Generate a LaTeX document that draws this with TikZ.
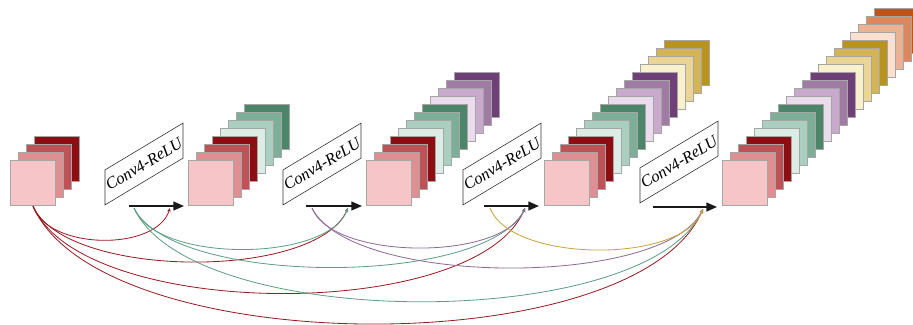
\documentclass[tikz,border=0pt]{standalone}
\usepackage{fontspec}
\setmainfont{Liberation Serif}
\usetikzlibrary{arrows.meta}
\definecolor{pk}{HTML}{F6C5C7}
\definecolor{ra}{HTML}{DE8F92}
\definecolor{rb}{HTML}{BE5357}
\definecolor{rc}{HTML}{8C0E13}
\definecolor{ga}{HTML}{DCEDE5}
\definecolor{gb}{HTML}{AACFC0}
\definecolor{gc}{HTML}{7DAE98}
\definecolor{gd}{HTML}{4C8569}
\definecolor{pa}{HTML}{EADCEC}
\definecolor{pb}{HTML}{C9AACC}
\definecolor{pc}{HTML}{A07CA5}
\definecolor{pd}{HTML}{6F3F77}
\definecolor{ya}{HTML}{F9F0CC}
\definecolor{yb}{HTML}{EAD597}
\definecolor{yc}{HTML}{D3B457}
\definecolor{yd}{HTML}{B8931F}
\definecolor{oa}{HTML}{FCE0CF}
\definecolor{ob}{HTML}{EBB293}
\definecolor{oc}{HTML}{DC875C}
\definecolor{od}{HTML}{BE5419}
\definecolor{cred}{HTML}{9B1B22}
\definecolor{cgreen}{HTML}{5E9E84}
\definecolor{cpurple}{HTML}{8E6A9A}
\definecolor{cyellow}{HTML}{C9A43A}
\begin{document}
\begin{tikzpicture}[x=0.3mm,y=-0.3mm,
  layer/.style={draw=black!35, line width=0.4pt, minimum size=13.5mm, inner sep=0pt},
  convbox/.style={draw=black!80, line width=0.5pt, yslant=0.6, minimum width=23.4mm,
    minimum height=10.5mm, inner sep=0pt},
  convtext/.style={rotate=31, inner sep=0pt, font=\fontsize{14}{16}\selectfont\itshape},
  bigarrow/.style={line width=1.3pt, draw=black!90, -{Triangle[length=9pt,width=7.5pt]}},
  skip/.style={line width=0.7pt, -{Stealth[length=3.5pt,width=3pt]}},
]
\useasboundingbox (0,0) rectangle (913,324);
\def\collist{{"pk","ra","rb","rc","ga","gb","gc","gd","pa","pb","pc","pd","ya","yb","yc","yd","oa","ob","oc","od"}}
\foreach \i in {0,...,4}{
  \pgfmathtruncatemacro\last{4*\i+3}
  \foreach \k in {\last,...,0}{
    \pgfmathsetmacro\col{\collist[\k]}
    \node[layer, fill=\col] (s\i-\k) at ({32.5+178*\i+8*\k},{182.5-8*\k}) {};
  }
}
% Conv boxes
\node[convbox] (b1) at (144,164) {};
\node[convbox] (b2) at (322,164) {};
\node[convbox] (b3) at (502,164) {};
\node[convbox] (b4) at (679,162) {};
\node[convtext] (b1t) at (b1.center) {Conv4-ReLU};
\node[convtext] (b2t) at (b2.center) {Conv4-ReLU};
\node[convtext] (b3t) at (b3.center) {Conv4-ReLU};
\node[convtext] (b4t) at (b4.center) {Conv4-ReLU};
% arrows
\coordinate (a1s) at (129,206); \coordinate (a1e) at (184,206);
\coordinate (a2s) at (306,206); \coordinate (a2e) at (362,206);
\coordinate (a3s) at (484,206); \coordinate (a3e) at (539,206);
\coordinate (a4s) at (653,207); \coordinate (a4e) at (717,207);
\draw[bigarrow] (a1s) -- (a1e);
\draw[bigarrow] (a2s) -- (a2e);
\draw[bigarrow] (a3s) -- (a3e);
\draw[bigarrow] (a4s) -- (a4e);
% curve sources and targets
\coordinate (r0) at (33,206);
\coordinate (g0) at (134,208);
\coordinate (p0) at (312,208);
\coordinate (y0) at (490,208);
\coordinate (t1) at (170,208);
\coordinate (t2) at (348,208);
\coordinate (t3) at (525,208);
\coordinate (t4) at (703,209);
% red
\draw[skip, cred] (r0) .. controls +(14,44) and +(-14,44) .. (t1);
\draw[skip, cred] (r0) .. controls +(32,73) and +(-32,73) .. (t2);
\draw[skip, cred] (r0) .. controls +(49,115) and +(-49,115) .. (t3);
\draw[skip, cred] (r0) .. controls +(67,155) and +(-67,155) .. (t4);
% green
\draw[skip, cgreen] (g0) .. controls +(21,55) and +(-21,55) .. (t2);
\draw[skip, cgreen] (g0) .. controls +(39,79) and +(-39,79) .. (t3);
\draw[skip, cgreen] (g0) .. controls +(57,124) and +(-57,124) .. (t4);
% purple
\draw[skip, cpurple] (p0) .. controls +(21,53) and +(-21,53) .. (t3);
\draw[skip, cpurple] (p0) .. controls +(39,79) and +(-39,79) .. (t4);
% yellow
\draw[skip, cyellow] (y0) .. controls +(21,55) and +(-21,55) .. (t4);
\end{tikzpicture}
\end{document}
